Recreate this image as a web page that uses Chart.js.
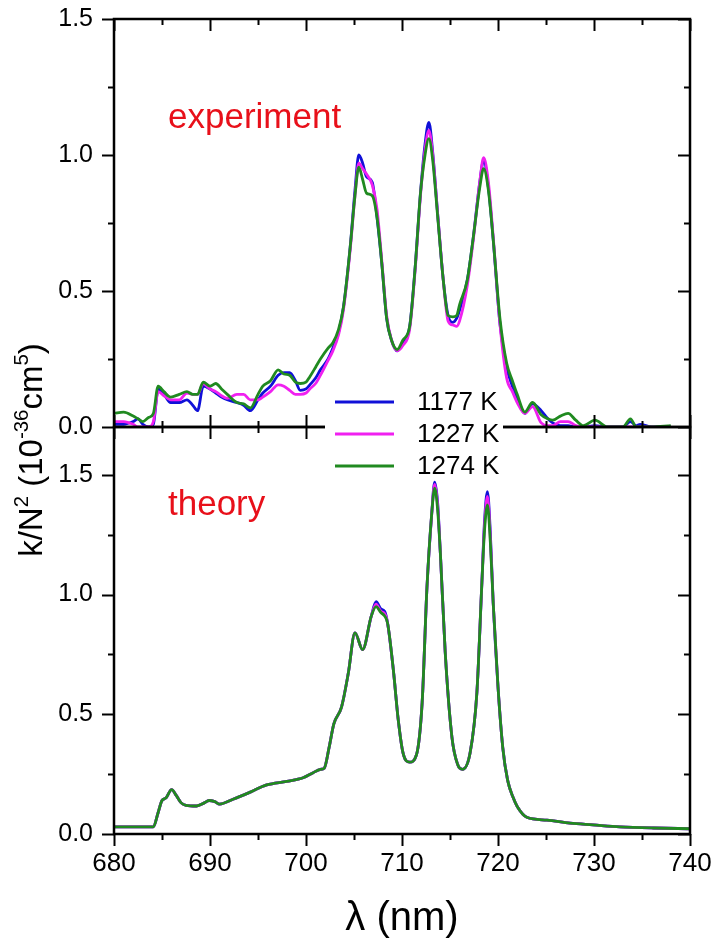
<!DOCTYPE html>
<html>
<head>
<meta charset="utf-8">
<title>k/N2 spectra</title>
<script src="https://cdn.jsdelivr.net/npm/chart.js@4.4.1/dist/chart.umd.min.js"></script>
<style>
  html, body { margin: 0; padding: 0; background: #fff; }
  #wrap { position: relative; width: 715px; height: 939px; }
  #wrap canvas { position: absolute; left: 0; top: 0; }
</style>
</head>
<body>
<div id="wrap">
  <canvas id="exp-chart" width="715" height="939"></canvas>
  <canvas id="th-chart" width="715" height="939"></canvas>
</div>
<script>
// ===== DATA =====
const series = ["1177 K", "1227 K", "1274 K"];
const colors = ["#1010d8", "#f020f0", "#208a20"];

// wavelength ticks (nm)
const xMajor = [680, 690, 700, 710, 720, 730, 740];
const xMinor = [685, 695, 705, 715, 725, 735];
const yMajor = [0, 0.5, 1.0, 1.5];
const yMinor = [0.25, 0.75, 1.25];

// measured spectra
const expLambda = [680.0, 681.0, 682.0, 682.5, 683.0, 683.6, 684.1, 684.6, 685.2, 685.9,
  686.8, 687.6, 688.2, 688.7, 689.3, 690.0, 690.6, 691.2, 691.8, 692.8,
  693.5, 694.2, 695.0, 695.5, 696.3, 697.1, 697.7, 698.3, 698.9, 699.4,
  700.0, 700.4, 701.0, 701.5, 702.3, 702.8, 703.4, 703.9, 704.6, 705.1,
  705.5, 705.9, 706.3, 706.9, 707.4, 707.9, 708.4, 708.9, 709.5, 710.1,
  710.8, 711.4, 711.9, 712.4, 712.8, 713.2, 713.7, 714.3, 714.8, 715.3,
  715.7, 716.0, 716.8, 717.4, 718.1, 718.5, 719.0, 719.5, 720.2, 720.9,
  721.5, 722.0, 722.8, 723.6, 724.5, 725.2, 725.7, 726.5, 727.3, 728.1,
  728.9, 730.1, 731.4, 733.0, 733.8, 734.4, 734.8, 736.0, 738.0];
const exp1177 = [0.01, 0.01, 0.02, 0.03, 0.01, 0.0, 0.01, 0.14, 0.12, 0.09,
  0.09, 0.10, 0.08, 0.06, 0.15, 0.14, 0.125, 0.11, 0.10, 0.09,
  0.08, 0.06, 0.10, 0.125, 0.15, 0.19, 0.20, 0.20, 0.17, 0.135,
  0.14, 0.155, 0.18, 0.21, 0.25, 0.29, 0.35, 0.44, 0.66, 0.87,
  1.00, 0.97, 0.92, 0.90, 0.77, 0.60, 0.40, 0.32, 0.28, 0.31,
  0.37, 0.60, 0.85, 1.04, 1.12, 1.01, 0.79, 0.54, 0.41, 0.385,
  0.40, 0.43, 0.54, 0.69, 0.90, 0.98, 0.88, 0.69, 0.38, 0.22,
  0.15, 0.10, 0.05, 0.085, 0.06, 0.03, 0.015, 0.005, 0.005, 0.0,
  0.0, 0.005, 0.0, 0.0, 0.02, 0.005, 0.01, 0.0, 0.0];
const exp1227 = [0.02, 0.02, 0.01, 0.0, 0.0, 0.0, 0.02, 0.13, 0.115, 0.10,
  0.10, 0.125, 0.12, 0.12, 0.16, 0.14, 0.13, 0.115, 0.105, 0.12,
  0.12, 0.10, 0.10, 0.11, 0.13, 0.155, 0.15, 0.135, 0.12, 0.12,
  0.125, 0.14, 0.16, 0.19, 0.245, 0.28, 0.34, 0.43, 0.65, 0.85,
  0.97, 0.95, 0.93, 0.89, 0.80, 0.61, 0.41, 0.32, 0.28, 0.30,
  0.36, 0.59, 0.84, 1.02, 1.09, 1.00, 0.79, 0.54, 0.39, 0.375,
  0.37, 0.39, 0.52, 0.68, 0.90, 0.99, 0.90, 0.70, 0.38, 0.18,
  0.13, 0.09, 0.05, 0.075, 0.015, 0.005, 0.005, 0.02, 0.02, 0.005,
  0.0, 0.0, 0.0, 0.0, 0.0, 0.0, 0.0, 0.0, 0.0];
const exp1274 = [0.05, 0.055, 0.04, 0.03, 0.02, 0.035, 0.05, 0.15, 0.13, 0.11,
  0.12, 0.13, 0.12, 0.12, 0.165, 0.15, 0.16, 0.14, 0.12, 0.09,
  0.085, 0.07, 0.12, 0.15, 0.17, 0.21, 0.195, 0.19, 0.165, 0.16,
  0.165, 0.185, 0.22, 0.25, 0.29, 0.31, 0.36, 0.44, 0.66, 0.85,
  0.955, 0.91, 0.86, 0.85, 0.77, 0.60, 0.40, 0.32, 0.285, 0.32,
  0.37, 0.60, 0.85, 1.00, 1.06, 0.98, 0.78, 0.54, 0.41, 0.405,
  0.41, 0.45, 0.54, 0.69, 0.88, 0.95, 0.87, 0.69, 0.40, 0.235,
  0.17, 0.12, 0.055, 0.09, 0.045, 0.03, 0.025, 0.04, 0.05, 0.025,
  0.005, 0.025, 0.0, 0.0, 0.03, 0.0, 0.0, 0.0, 0.005];

// calculated spectra
const thLambda = [680.0, 684.1, 684.6, 685.0, 685.4, 686.0, 686.5, 687.0, 687.5, 688.6,
  689.4, 689.9, 690.5, 691.0, 692.4, 694.2, 695.9, 698.0, 699.7, 700.7,
  701.5, 701.9, 702.4, 702.9, 703.7, 704.4, 705.1, 705.9, 706.8, 707.3,
  707.8, 708.2, 708.5, 709.1, 709.6, 710.1, 710.8, 711.5, 712.1, 712.6,
  713.1, 713.4, 713.7, 714.0, 714.5, 715.2, 715.8, 716.3, 717.1, 717.8,
  718.3, 718.6, 718.9, 719.2, 719.5, 720.0, 720.5, 721.0, 721.6, 722.0,
  723.0, 725.1, 727.5, 729.9, 732.7, 736.2, 740.0];
const th1177 = [0.03, 0.03, 0.09, 0.14, 0.15, 0.185, 0.16, 0.13, 0.12, 0.117,
  0.13, 0.14, 0.135, 0.125, 0.145, 0.175, 0.205, 0.22, 0.235, 0.255,
  0.27, 0.275, 0.36, 0.46, 0.53, 0.67, 0.84, 0.77, 0.91, 0.97,
  0.94, 0.93, 0.88, 0.685, 0.48, 0.34, 0.30, 0.33, 0.55, 1.03,
  1.34, 1.47, 1.39, 1.17, 0.76, 0.405, 0.29, 0.27, 0.34, 0.59,
  1.03, 1.31, 1.43, 1.26, 0.965, 0.615, 0.36, 0.225, 0.15, 0.115,
  0.07, 0.058, 0.045, 0.038, 0.03, 0.025, 0.022];
const th1227 = [0.03, 0.03, 0.09, 0.14, 0.15, 0.185, 0.16, 0.13, 0.12, 0.117,
  0.13, 0.14, 0.135, 0.125, 0.145, 0.175, 0.205, 0.22, 0.235, 0.255,
  0.27, 0.275, 0.36, 0.46, 0.53, 0.67, 0.84, 0.77, 0.91, 0.96,
  0.93, 0.92, 0.88, 0.685, 0.48, 0.34, 0.30, 0.33, 0.55, 1.03,
  1.34, 1.46, 1.38, 1.17, 0.76, 0.405, 0.29, 0.27, 0.34, 0.59,
  1.03, 1.29, 1.41, 1.24, 0.965, 0.615, 0.36, 0.225, 0.15, 0.115,
  0.07, 0.058, 0.045, 0.038, 0.03, 0.025, 0.022];
const th1274 = [0.03, 0.03, 0.09, 0.14, 0.15, 0.185, 0.16, 0.13, 0.12, 0.117,
  0.13, 0.14, 0.135, 0.125, 0.145, 0.175, 0.205, 0.22, 0.235, 0.255,
  0.27, 0.275, 0.36, 0.46, 0.53, 0.67, 0.84, 0.77, 0.91, 0.95,
  0.925, 0.91, 0.88, 0.685, 0.48, 0.34, 0.30, 0.33, 0.55, 1.03,
  1.34, 1.445, 1.36, 1.17, 0.76, 0.405, 0.29, 0.27, 0.34, 0.59,
  1.03, 1.27, 1.375, 1.22, 0.965, 0.615, 0.36, 0.225, 0.15, 0.115,
  0.07, 0.058, 0.045, 0.038, 0.03, 0.025, 0.022];

const FONT = "'Liberation Sans', Arial, sans-serif";

// ===== HELPERS =====
function makeDatasets(lambda, valueSets) {
  return valueSets.map((vals, i) => ({
    label: series[i],
    data: lambda.map((x, j) => ({ x, y: vals[j] })),
    borderColor: colors[i],
    borderWidth: 2.8,
    pointRadius: 0,
    cubicInterpolationMode: "monotone",
    fill: false,
    order: valueSets.length - 1 - i   // last series on top
  }));
}

// axis box + Origin-style tick marks
const framePlugin = {
  id: "frame",
  afterDraw(chart, args, opts) {
    const { ctx, chartArea: a, scales } = chart;
    ctx.save();
    ctx.strokeStyle = "#000";
    ctx.lineWidth = 2.5;
    ctx.strokeRect(a.left, a.top, a.right - a.left, a.bottom - a.top);
    ctx.lineWidth = 2;
    (opts.marks || []).forEach(m => {
      const scale = scales[m.axis];
      m.values.forEach(v => {
        const p = Math.round(scale.getPixelForValue(v)) + 0.5;
        ctx.beginPath();
        if (m.side === "left")       { ctx.moveTo(a.left - m.out, p);  ctx.lineTo(a.left + m.in, p); }
        else if (m.side === "right") { ctx.moveTo(a.right - m.in, p);  ctx.lineTo(a.right + m.out, p); }
        else if (m.side === "top")   { ctx.moveTo(p, a.top - m.out);   ctx.lineTo(p, a.top + m.in); }
        else                         { ctx.moveTo(p, a.bottom - m.in); ctx.lineTo(p, a.bottom + m.out); }
        ctx.stroke();
      });
    });
    ctx.restore();
  }
};

// free text, legend box and the shared y title
const notesPlugin = {
  id: "notes",
  afterDraw(chart, args, opts) {
    const { ctx } = chart;
    ctx.save();
    (opts.labels || []).forEach(l => {
      ctx.font = `${l.size}px ${FONT}`;
      ctx.fillStyle = l.color;
      ctx.textBaseline = "alphabetic";
      ctx.fillText(l.text, l.x, l.y);
    });

    if (opts.legend) {
      const L = opts.legend;
      ctx.fillStyle = "#fff";
      ctx.fillRect(L.box[0], L.box[1], L.box[2], L.box[3]);
      ctx.font = `${L.size}px ${FONT}`;
      ctx.textBaseline = "middle";
      series.forEach((name, i) => {
        const y = L.y + i * L.step;
        ctx.strokeStyle = colors[i];
        ctx.lineWidth = 3;
        ctx.beginPath();
        ctx.moveTo(L.x, y);
        ctx.lineTo(L.x + L.len, y);
        ctx.stroke();
        ctx.fillStyle = "#000";
        ctx.fillText(name, L.textX, y + 1);
      });
    }

    if (opts.yTitle) {
      const T = opts.yTitle;
      const supSize = T.size * 0.62;
      let total = 0;
      T.parts.forEach(p => {
        ctx.font = `${p.sup ? supSize : T.size}px ${FONT}`;
        p.w = ctx.measureText(p.t).width;
        total += p.w;
      });
      ctx.translate(T.x, T.y);
      ctx.rotate(-Math.PI / 2);
      ctx.fillStyle = "#000";
      ctx.textBaseline = "alphabetic";
      let cx = -total / 2;
      T.parts.forEach(p => {
        ctx.font = `${p.sup ? supSize : T.size}px ${FONT}`;
        ctx.fillText(p.t, cx, p.sup ? T.size * 0.35 - T.size * 0.42 : T.size * 0.35);
        cx += p.w;
      });
    }
    ctx.restore();
  }
};

function yScale(max, ticks) {
  return {
    min: 0,
    max: max,
    afterFit: s => {
      s.width = 114;
      s.paddingTop = 0;
      s.paddingBottom = 0;
    },
    afterBuildTicks: s => { s.ticks = ticks.map(v => ({ value: v })); },
    grid: { display: false, drawTicks: false },
    border: { display: false },
    ticks: {
      padding: 21,
      color: "#000",
      font: { family: FONT, size: 25 },
      callback: v => v.toFixed(1)
    }
  };
}

// ===== EXPERIMENT PANEL =====
new Chart(document.getElementById("exp-chart"), {
  type: "line",
  data: { datasets: makeDatasets(expLambda, [exp1177, exp1227, exp1274]) },
  options: {
    responsive: false,
    animation: false,
    layout: { padding: { top: 19, right: 25, bottom: 512, left: 0 } },
    plugins: {
      legend: { display: false },
      tooltip: { enabled: false },
      frame: {
        marks: [
          { axis: "y", side: "left",  values: yMajor, out: 12, in: 0 },
          { axis: "y", side: "left",  values: yMinor, out: 6,  in: 0 },
          { axis: "y", side: "right", values: yMajor, out: 0,  in: 12 },
          { axis: "y", side: "right", values: yMinor, out: 0,  in: 6 },
          { axis: "x", side: "top",   values: xMajor, out: 0,  in: 12 },
          { axis: "x", side: "top",   values: xMinor, out: 0,  in: 6 },
          { axis: "x", side: "bottom", values: xMajor, out: 12, in: 12 },
          { axis: "x", side: "bottom", values: xMinor, out: 6,  in: 6 }
        ]
      },
      notes: {
        labels: [{ text: "experiment", x: 168, y: 128, size: 35, color: "#e8101a" }]
      }
    },
    scales: {
      x: { type: "linear", min: 680, max: 740, display: false },
      y: yScale(1.5, yMajor)
    }
  },
  plugins: [framePlugin, notesPlugin]
});

// ===== THEORY PANEL =====
new Chart(document.getElementById("th-chart"), {
  type: "line",
  data: { datasets: makeDatasets(thLambda, [th1177, th1227, th1274]) },
  options: {
    responsive: false,
    animation: false,
    layout: { padding: { top: 427, right: 25, bottom: 0, left: 0 } },
    plugins: {
      legend: { display: false },
      tooltip: { enabled: false },
      frame: {
        marks: [
          { axis: "y", side: "left",  values: yMajor, out: 12, in: 0 },
          { axis: "y", side: "left",  values: yMinor, out: 6,  in: 0 },
          { axis: "y", side: "right", values: yMajor, out: 0,  in: 12 },
          { axis: "y", side: "right", values: yMinor, out: 0,  in: 6 },
          { axis: "x", side: "bottom", values: xMajor, out: 12, in: 0 },
          { axis: "x", side: "bottom", values: xMinor, out: 6,  in: 0 }
        ]
      },
      notes: {
        labels: [{ text: "theory", x: 168, y: 515, size: 35, color: "#e8101a" }],
        legend: { box: [325, 386, 178, 92], x: 335, len: 59, y: 402, step: 32, textX: 417, size: 26 },
        yTitle: {
          x: 30, y: 450, size: 33,
          parts: [
            { t: "k/N" }, { t: "2", sup: true }, { t: " (10" }, { t: "-36", sup: true },
            { t: "cm" }, { t: "5", sup: true }, { t: ")" }
          ]
        }
      }
    },
    scales: {
      x: {
        type: "linear",
        min: 680,
        max: 740,
        afterFit: s => {
          s.height = 105;
          s.paddingLeft = 0;
          s.paddingRight = 0;
        },
        afterBuildTicks: s => { s.ticks = xMajor.map(v => ({ value: v })); },
        grid: { display: false, drawTicks: false },
        border: { display: false },
        ticks: { padding: 14, color: "#000", font: { family: FONT, size: 26 }, maxRotation: 0 },
        title: {
          display: true,
          text: "λ (nm)",
          color: "#000",
          font: { family: FONT, size: 40 },
          padding: { top: 0, bottom: -4 }
        }
      },
      y: yScale(1.7, yMajor)
    }
  },
  plugins: [framePlugin, notesPlugin]
});
</script>
</body>
</html>
